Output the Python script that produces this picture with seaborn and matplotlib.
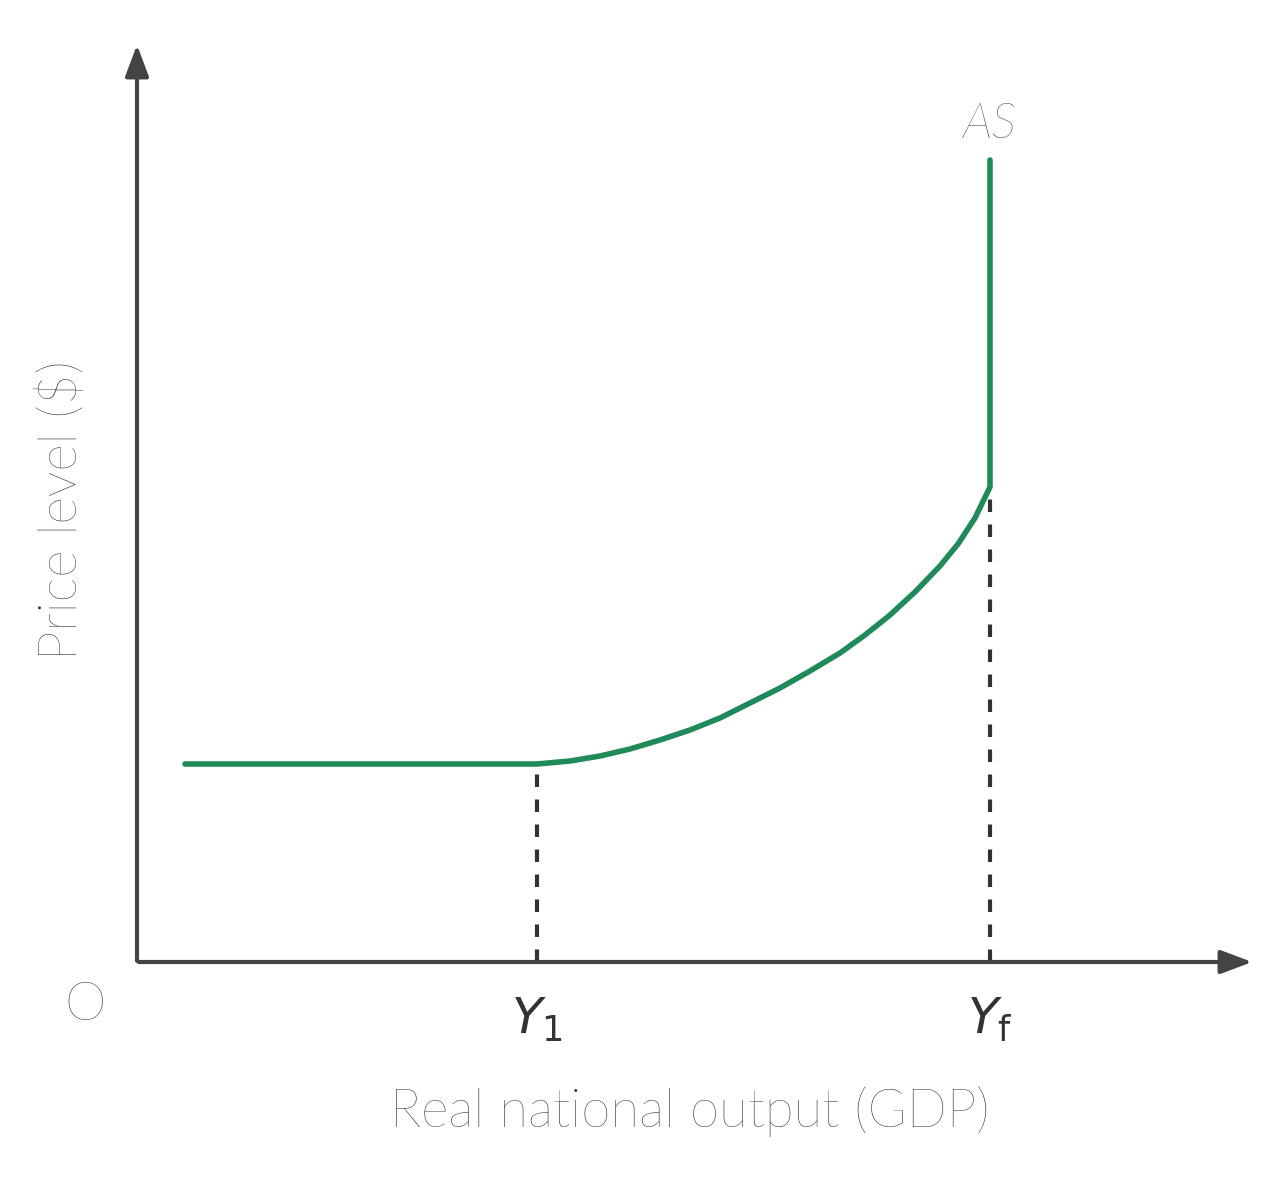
import matplotlib
matplotlib.use("Agg")
import matplotlib.pyplot as plt
import seaborn as sns

sns.set_theme(style="white")
plt.rcParams['font.family'] = ['Lato', 'DejaVu Sans']

# AS curve points (pixel-like coordinates, y measured from bottom)
as_x = [185, 537, 570, 600, 630, 660, 690, 720, 750, 780, 810, 840, 865, 890, 915, 940, 958, 975, 990, 990]
as_y = [436, 436, 439, 444, 451, 460, 470, 482, 497, 512, 529, 547, 565, 585, 608, 634, 656, 682, 713, 1040]
y1_x, yf_x = 537, 990
axis_y = 238

fig = plt.figure(figsize=(12.79, 12), dpi=100)
ax = fig.add_axes([0, 0, 1, 1])
ax.set_xlim(0, 1279); ax.set_ylim(0, 1200)
ax.axis('off')

green = '#1f8a5a'
sns.lineplot(x=as_x, y=as_y, sort=False, ax=ax, color=green, lw=4, estimator=None)
for xv, yv in [(y1_x, 436), (yf_x, 713)]:
    ax.plot([xv, xv], [axis_y, yv], ls=(0, (3, 3)), color='#333333', lw=3)

arrow = dict(arrowstyle='-|>,head_length=1.6,head_width=0.6', color='#444444', lw=3)
ax.annotate('', xy=(137, 1158), xytext=(137, axis_y - 1.5), arrowprops=arrow)
ax.annotate('', xy=(1255, axis_y), xytext=(136, axis_y), arrowprops=arrow)

tc = '#333333'
ax.text(85, 195, 'O', fontsize=38, ha='center', va='center', color=tc, weight='light')
ax.text(y1_x, 180, r'$Y_1$', fontsize=36, ha='center', va='center', color=tc)
ax.text(yf_x, 180, r'$Y_{\mathrm{f}}$', fontsize=36, ha='center', va='center', color=tc)
ax.text(690, 88, 'Real national output (GDP)', fontsize=38, ha='center', va='center', color=tc, weight='light')
ax.text(62, 690, 'Price level ($)', fontsize=38, ha='center', va='center', rotation=90, color=tc, weight='light')
ax.text(990, 1075, 'AS', fontsize=36, ha='center', va='center', style='italic', color=tc, weight='light')

fig.savefig('out.png', dpi=100)
